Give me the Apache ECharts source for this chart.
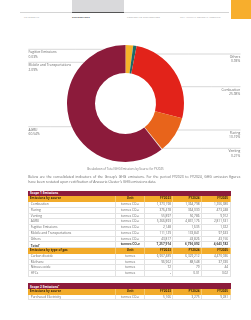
<!DOCTYPE html>
<html>
<head>
<meta charset="utf-8">
<script src="https://cdn.jsdelivr.net/npm/echarts@6/dist/echarts.min.js"></script>
<style>
html,body{margin:0;padding:0;background:#fff;}
body{width:251px;height:320px;position:relative;overflow:hidden;font-family:"Open Sans",sans-serif;color:#666;}
.abs{position:absolute;}
.nav{position:absolute;top:14.6px;font-size:2.4px;letter-spacing:0.15px;color:#9a9a9a;white-space:nowrap;}
#chart{position:absolute;left:0;top:0;width:251px;height:170px;}
#caption{position:absolute;top:166.8px;left:0;width:251px;text-align:center;font-size:2.9px;color:#777;}
.para{position:absolute;left:28.3px;width:212px;font-size:3.45px;line-height:4.6px;color:#666;white-space:nowrap;}
.tbl{position:absolute;left:28.3px;width:202.4px;}
.row{display:grid;grid-template-columns:88.2px 28.5px 28.5px 28.5px 28.7px;height:5.75px;line-height:5.75px;font-size:3.15px;box-sizing:border-box;border-bottom:1px solid #e2e2e2;}
.row div{padding:0 1.5px;white-space:nowrap;overflow:hidden;border-right:1px solid #e2e2e2;box-sizing:border-box;}
.row div:first-child{border-left:1px solid #e2e2e2;}
.row .c{text-align:center;}
.row .r{text-align:right;}
.title{height:5.75px;line-height:5.75px;background:#8c1b3b;color:#fff;font-weight:bold;font-size:3.15px;padding-left:1.8px;}
.head{background:#f2ab2a;color:#3d2a0a;font-weight:bold;border-bottom:none;}
.head div{border-right:1px solid #f7c766;}
.head div:first-child{border-left:none;}
.total{font-weight:bold;color:#444;}
</style>
</head>
<body>
<div class="abs" style="left:72px;top:0;width:52px;height:12px;background:#d9d9db;"></div>
<div class="abs" style="left:20px;top:12.3px;width:209px;height:1px;background:#d4d4d4;"></div>
<div class="abs" style="left:72px;top:12px;width:52px;height:1.2px;background:#555;"></div>
<div class="abs" style="left:231px;top:0;width:20px;height:19px;background:#f7ae2d;"></div>
<div class="nav" style="left:24px;">LEADERSHIP</div>
<div class="nav" style="left:72px;color:#444;font-weight:bold;">GOVERNANCE</div>
<div class="nav" style="left:127px;">CORPORATE DISCLOSURES</div>
<div class="nav" style="left:180px;">7TH ANNUAL GENERAL MEETING</div>

<div id="chart"></div>
<div id="caption">Breakdown of Total GHG Emissions by Source for FY2025</div>
<div class="para" style="top:175.3px;text-align:justify;text-align-last:justify;">Below are the consolidated indicators of the Group's GHG emissions. For the period FY2023 to FY2024, GHG emission figures</div>
<div class="para" style="top:179.9px;">have been restated upon rectification of Anasuria Cluster's GHG emissions data.</div>

<div id="t1" class="tbl" style="top:190.6px;"></div>
<div id="t2" class="tbl" style="top:283px;"></div>

<script>
// donut: share of FY2025 emissions by source, clockwise from 12 o'clock
var sourceNames = ['Mobile and Transportations', 'Fugitive Emissions', 'Others', 'Combustion', 'Flaring', 'Venting', 'AGRU'];
var sharePct = [2.09, 0.03, 0.93, 25.98, 10.19, 0.21, 60.54];
var sliceColors = ['#f6b42a', '#3a9aa8', '#1e6b67', '#e2231a', '#e8641b', '#e6d8cc', '#8c1b3b'];

// tables
var yearLabels = ['FY2023', 'FY2024', 'FY2025'];
var scope1Sources = ['Combustion', 'Flaring', 'Venting', 'AGRU', 'Fugitive Emissions', 'Mobile and Transportations', 'Others'];
var scope1FY2023 = [1373198, 376478, 55897, 5266893, 2148, 111129, 43817];
var scope1FY2024 = [1364798, 364030, 56786, 4831176, 1635, 133841, 43826];
var scope1FY2025 = [1206380, 473248, 9912, 2811531, 1322, 97633, 43156];
var scope1Total = [7257914, 6796092, 4643182];
var gasNames = ['Carbon dioxide', 'Methane', 'Nitrous oxide', 'HFCs'];
var gasFY2023 = [6907489, 96962, 72, null];
var gasFY2024 = [6329212, 88548, 79, 0.01];
var gasFY2025 = [4470036, 37330, 44, 0.02];
var scope2Sources = ['Purchased Electricity'];
var scope2FY2023 = [5166];
var scope2FY2024 = [3275];
var scope2FY2025 = [9281];

// where each label's guide line sits (px in the chart box)
var labelGuides = {
    'Fugitive Emissions': { side: 'left', y: 49.3, x0: 123 },
    'Mobile and Transportations': { side: 'left', y: 62.3, x0: 84 },
    'AGRU': { side: 'left', y: 126.7, x0: 72 },
    'Others': { side: 'right', y: 54, x0: 137 },
    'Combustion': { side: 'right', y: 86.7, x0: 182 },
    'Flaring': { side: 'right', y: 130, x0: 171 },
    'Venting': { side: 'right', y: 148.3, x0: 163 }
};

var chart = echarts.init(document.getElementById('chart'), null, { renderer: 'canvas' });
chart.setOption({
    animation: false,
    color: sliceColors,
    series: [{
        type: 'pie',
        center: [125.5, 103.5],
        radius: [30.5, 58.5],
        startAngle: 90,
        clockwise: true,
        avoidLabelOverlap: false,
        silent: true,
        data: sourceNames.map(function (n, i) { return { name: n, value: sharePct[i] }; }),
        label: {
            show: true,
            position: 'outside',
            formatter: '{b}\n{c}%',
            fontFamily: 'Open Sans',
            fontSize: 3.3,
            lineHeight: 4.2,
            color: '#666'
        },
        labelLine: {
            show: true,
            length: 4,
            length2: 4,
            lineStyle: { color: '#bdbdbd', width: 0.6 }
        },
        labelLayout: function (params) {
            var g = labelGuides[sourceNames[params.dataIndex]];
            var end = g.side === 'left' ? 28.3 : 240.5;
            return {
                x: g.side === 'left' ? 28.6 : 240.2,
                y: g.y + 1.1,
                align: g.side,
                verticalAlign: 'top',
                labelLinePoints: [[g.x0, g.y], [(g.x0 + end) / 2, g.y], [end, g.y]]
            };
        }
    }]
});

function fmt(v) {
    if (v === null) return '-';
    if (v < 1) return v.toFixed(2);
    return v.toLocaleString('en-US');
}
function row(cells, cls) {
    var h = '<div class="row' + (cls ? ' ' + cls : '') + '">';
    h += '<div>' + cells[0] + '</div><div class="c">' + cells[1] + '</div>';
    for (var i = 2; i < 5; i++) h += '<div class="r">' + cells[i] + '</div>';
    return h + '</div>';
}
function headRow(first) {
    return row([first, 'Unit'].concat(yearLabels), 'head');
}

var co2e = 'tonnes CO<sub style="font-size:2px;vertical-align:-0.4px">2</sub>e';
var h1 = '<div class="title">Scope 1 Emissions</div>' + headRow('Emissions by source');
scope1Sources.forEach(function (n, i) {
    h1 += row([n, co2e, fmt(scope1FY2023[i]), fmt(scope1FY2024[i]), fmt(scope1FY2025[i])]);
});
h1 += row(['Total<sup style="font-size:2px">1</sup>', co2e].concat(scope1Total.map(fmt)), 'total');
h1 += headRow('Emissions by type of gas');
gasNames.forEach(function (n, i) {
    h1 += row([n, 'tonnes', fmt(gasFY2023[i]), fmt(gasFY2024[i]), fmt(gasFY2025[i])]);
});
document.getElementById('t1').innerHTML = h1;

var h2 = '<div class="title">Scope 2 Emissions<sup style="font-size:2px">2</sup></div>' + headRow('Emissions by source');
scope2Sources.forEach(function (n, i) {
    h2 += row([n, co2e, fmt(scope2FY2023[i]), fmt(scope2FY2024[i]), fmt(scope2FY2025[i])]);
});
document.getElementById('t2').innerHTML = h2;
</script>
</body>
</html>
